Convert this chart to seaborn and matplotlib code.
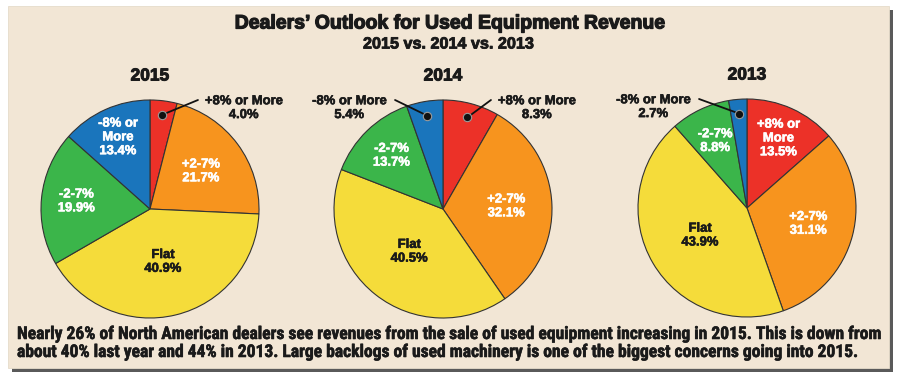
import numpy as np
import matplotlib
matplotlib.use("Agg")
import matplotlib.pyplot as plt
import matplotlib.patheffects as pe
import seaborn as sns
from matplotlib import font_manager
from matplotlib.patches import Rectangle

# ---------------- data ----------------
years = ["2015", "2014", "2013"]
categories = ["+8% or More", "+2-7%", "Flat", "-2-7%", "-8% or More"]
values_2015 = [4.0, 21.7, 40.9, 19.9, 13.4]
values_2014 = [8.3, 32.1, 40.5, 13.7, 5.4]
values_2013 = [13.5, 31.1, 43.9, 8.8, 2.7]
title = "Dealers\u2019 Outlook for Used Equipment Revenue"
subtitle = "2015 vs. 2014 vs. 2013"
caption_lines = [
    "Nearly 26% of North American dealers see revenues from the sale of used equipment increasing in 2015. This is down from",
    "about 40% last year and 44% in 2013. Large backlogs of used machinery is one of the biggest concerns going into 2015.",
]

# ---------------- style ----------------
sns.set_theme(style="white")
available = {f.name for f in font_manager.fontManager.ttflist}
def pick(cands):
    for c in cands:
        if c in available:
            return c
    return "DejaVu Sans"
main_font = pick(["Liberation Sans", "Arial", "Roboto", "DejaVu Sans"])
narrow_font = pick(["Liberation Sans Narrow", "Roboto Condensed", "Liberation Sans"])
plt.rcParams["font.family"] = [main_font, "DejaVu Sans"]

INK = "#1a1a1a"
def heavy(color, lw=0.5):
    return [pe.withStroke(linewidth=lw, foreground=color)]

palette = sns.color_palette(["#EC3128", "#F7941E", "#F5DC3A", "#3BB54A", "#1A75BC"])
text_colors = ["white", "white", INK, "white", "white"]
label_radius = [0.70, 0.58, 0.50, 0.68, 0.72]
outside_flags = {
    "2015": [True, False, False, False, False],
    "2014": [True, False, False, False, True],
    "2013": [False, False, False, False, True],
}
series = {"2015": values_2015, "2014": values_2014, "2013": values_2013}

W, H = 900, 376
fig = plt.figure(figsize=(W / 100, H / 100), dpi=100)
fig.patch.set_facecolor("white")

def px_rect(x0, y0, x1, y1):
    return (x0 / W, 1 - y1 / H, (x1 - x0) / W, (y1 - y0) / H)

# shadow + panel
sx, sy, sw, sh = px_rect(12, 10, 893, 372)
fig.patches.append(Rectangle((sx, sy), sw, sh, transform=fig.transFigure,
                             facecolor="#5a5a5a", edgecolor="none", zorder=0))
px, py, pw, ph = px_rect(8, 6, 889, 368)
fig.patches.append(Rectangle((px, py), pw, ph, transform=fig.transFigure,
                             facecolor="#F2E6D5", edgecolor="#e6dccb", lw=0.6, zorder=1))

centers = {"2015": (150, 209), "2014": (443, 209), "2013": (747, 208)}
R = 109
LBL = 9.4

for yr in years:
    vals = series[yr]
    cx, cy = centers[yr]
    ax = fig.add_axes(px_rect(cx - R, cy - R, cx + R, cy + R))
    ax.set_zorder(2)
    wedges, _ = ax.pie(vals, colors=palette, startangle=90, counterclock=False,
                       radius=1, wedgeprops=dict(edgecolor="#333333", linewidth=0.8))
    ax.set_xlim(-1, 1)
    ax.set_ylim(-1, 1)
    ax.set_aspect("equal")
    ax.axis("off")
    ax.text(0, 1.22, yr, ha="center", va="center", fontsize=12.5,
            fontweight="bold", color=INK, clip_on=False,
            path_effects=heavy(INK, 0.7))
    for i, (w, v, cat) in enumerate(zip(wedges, vals, categories)):
        mid = np.deg2rad((w.theta1 + w.theta2) / 2)
        if outside_flags[yr][i]:
            side = 1 if np.cos(mid) > 0 else -1
            dx, dy = 0.87 * np.cos(mid), 0.87 * np.sin(mid)
            ex, ey = side * 0.44, 1.00
            ax.plot([dx, ex], [dy, ey], color="#111111", lw=1.3, clip_on=False,
                    solid_capstyle="round")
            ax.plot([dx], [dy], marker="o", markersize=6, color="#111111",
                    markeredgecolor="#9a9a9a", markeredgewidth=0.8, clip_on=False)
            ax.text(side * 0.86, 0.925, f"{cat}\n{v:.1f}%", ha="center", va="center",
                    fontsize=LBL, fontweight="bold", color=INK,
                    linespacing=1.2, clip_on=False, path_effects=heavy(INK, 0.4))
        else:
            r = label_radius[i]
            name = cat.replace(" or More", " or\nMore")
            ax.text(r * np.cos(mid), r * np.sin(mid), f"{name}\n{v:.1f}%",
                    ha="center", va="center", fontsize=LBL, fontweight="bold",
                    color=text_colors[i], linespacing=1.2,
                    path_effects=heavy(text_colors[i], 0.4))

t_title = fig.text(450 / W, 1 - 24 / H, title, ha="center", va="center",
                   fontsize=14, fontweight="bold", color=INK, zorder=3,
                   path_effects=heavy(INK, 0.9))
t_sub = fig.text(448 / W, 1 - 44 / H, subtitle, ha="center", va="center",
                 fontsize=11, fontweight="bold", color=INK, zorder=3,
                 path_effects=heavy(INK, 0.6))
cap1 = fig.text(17 / W, 1 - 334 / H, caption_lines[0], ha="left", va="center",
                fontsize=9.5, fontweight="bold", color=INK,
                family=[narrow_font, "DejaVu Sans"], zorder=3,
                path_effects=heavy(INK, 0.4))
cap2 = fig.text(17 / W, 1 - 352 / H, caption_lines[1], ha="left", va="center",
                fontsize=9.5, fontweight="bold", color=INK,
                family=[narrow_font, "DejaVu Sans"], zorder=3,
                path_effects=heavy(INK, 0.4))

fig.canvas.draw()
rend = fig.canvas.get_renderer()
def fit(t, target):
    w = t.get_window_extent(rend).width
    t.set_fontsize(t.get_fontsize() * target / w)
fit(t_title, 431)
fit(t_sub, 171)
w1 = cap1.get_window_extent(rend).width
scale = 867 / w1
cap1.set_fontsize(cap1.get_fontsize() * scale)
cap2.set_fontsize(cap2.get_fontsize() * scale)

fig.savefig("out.png", dpi=100, facecolor=fig.get_facecolor())
